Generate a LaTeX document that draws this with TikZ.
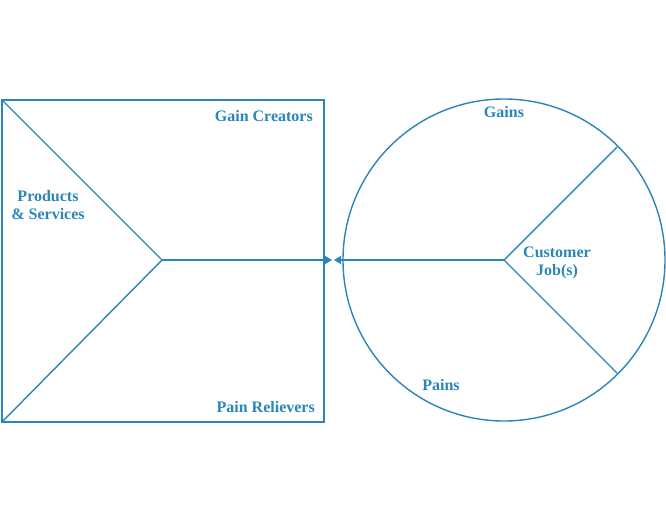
\documentclass[tikz,border=0pt]{standalone}
\usepackage{fontspec}
\setmainfont{Liberation Serif}
\usetikzlibrary{arrows.meta}
\definecolor{vp}{HTML}{2A86B8}
\tikzset{
  edge/.style={draw=vp, line width=1.4pt},
  lbl/.style={text=vp, font=\bfseries\fontsize{16}{18}\selectfont, inner sep=0pt, align=center},
  tip/.style={-{Triangle[length=7pt,width=8pt]}}
}
\begin{document}
\begin{tikzpicture}[x=1pt,y=-1pt]
\useasboundingbox (0,0) rectangle (666,515);
% square
\coordinate (tl) at (2,100);
\coordinate (bl) at (2,422);
\coordinate (sc) at (162,260);
\coordinate (sr) at (332,260);
\draw[edge] (2,100) rectangle (324,422);
\draw[edge] (tl) -- (sc);
\draw[edge] (bl) -- (sc);
\draw[edge,tip] (sc) -- (sr);
% circle
\coordinate (cc) at (504,260);
\coordinate (cl) at (334,260);
\coordinate (cu) at (617,147);
\coordinate (cd) at (617,373);
\draw[edge] (cc) circle[radius=161];
\draw[edge] (cc) -- (cu);
\draw[edge] (cc) -- (cd);
\draw[edge,tip] (cc) -- (cl);
% labels
\node[lbl,anchor=east] (gc) at (313,116) {Gain Creators};
\node[lbl,anchor=east] (pr) at (315,407) {Pain Relievers};
\node[lbl] (ps) at (48,205) {Products\\\& Services};
\node[lbl] (ga) at (504,112) {Gains};
\node[lbl] (pa) at (441,385) {Pains};
\node[lbl] (cj) at (557,263) {Customer\\Job(s)};
\end{tikzpicture}
\end{document}
